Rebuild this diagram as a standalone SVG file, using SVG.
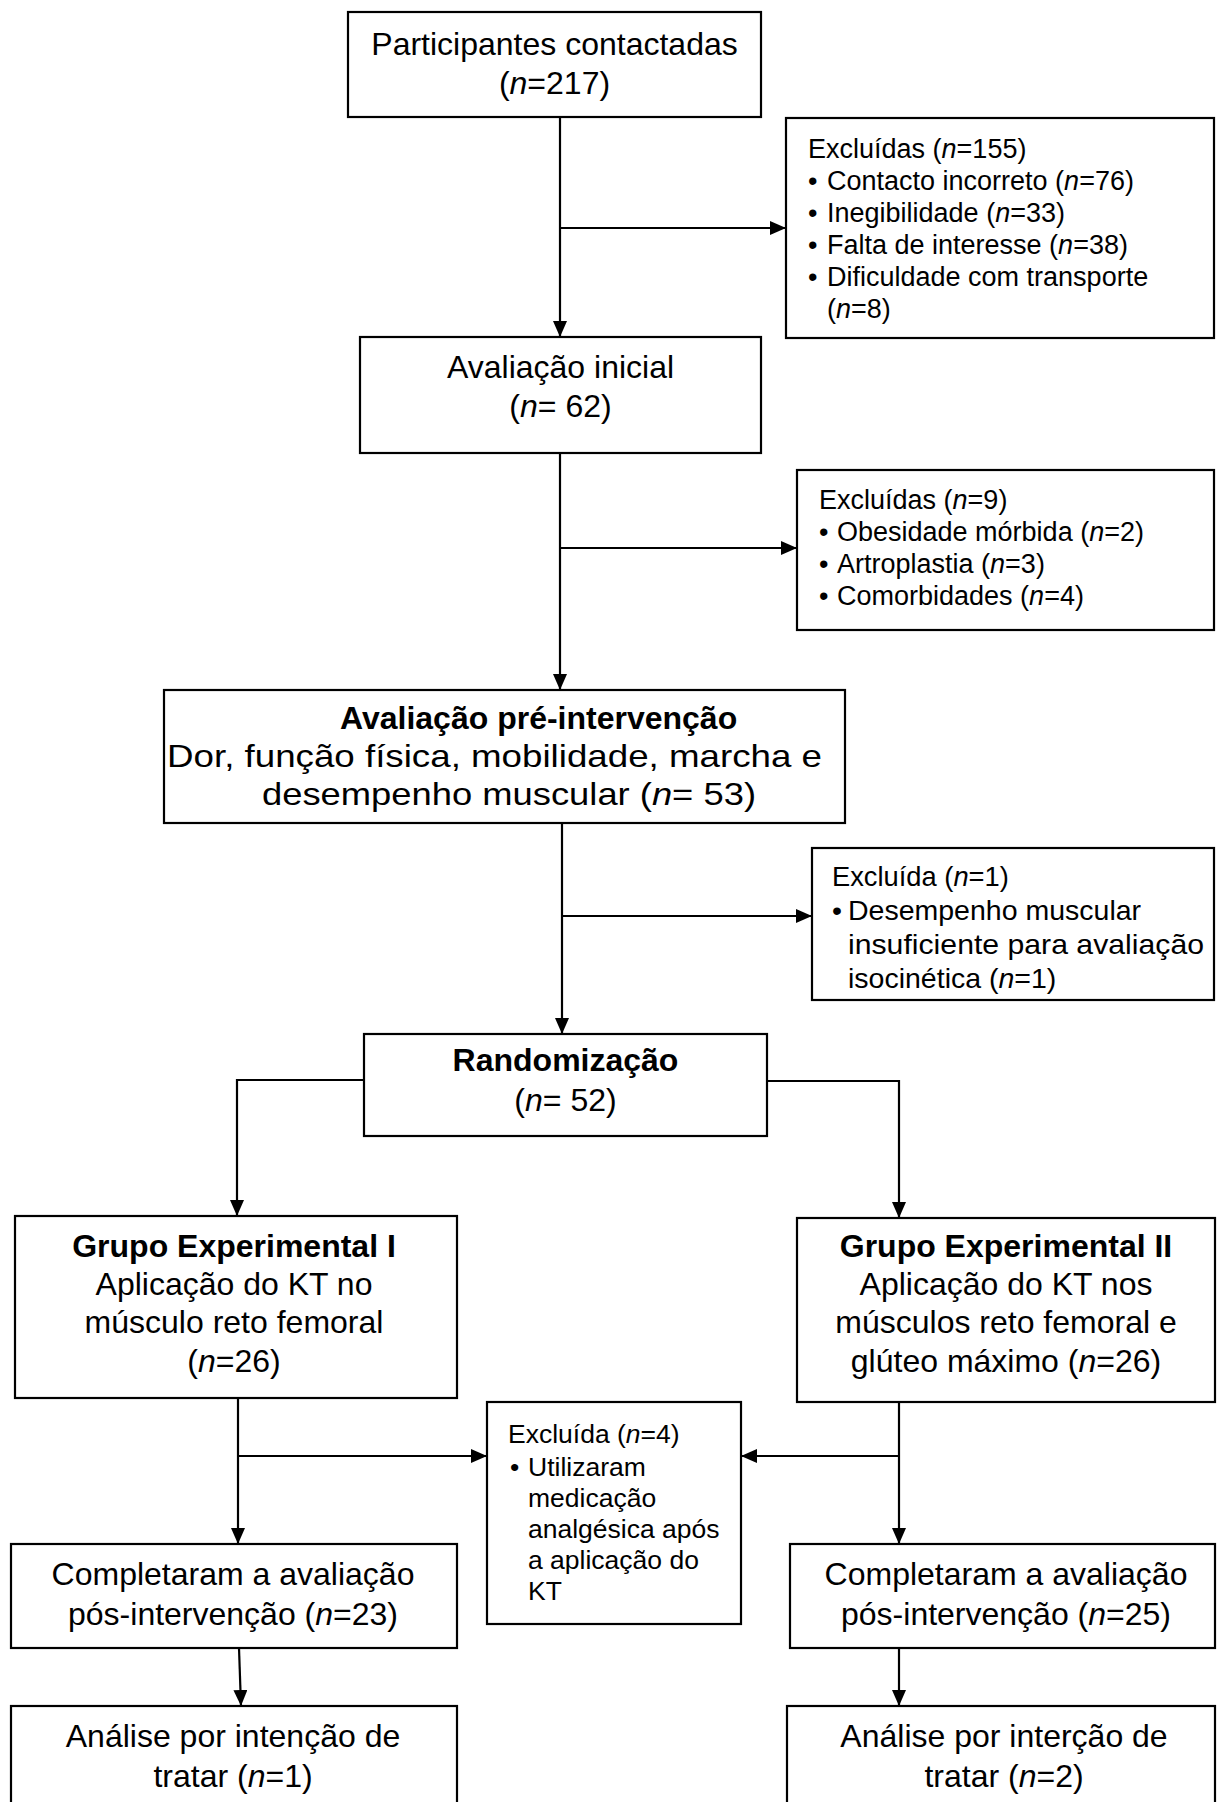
<svg xmlns="http://www.w3.org/2000/svg" width="1217" height="1802" viewBox="0 0 1217 1802">
<defs>
<style>
.box{fill:#fff;stroke:#000;stroke-width:2.2}
.t{font-family:"Liberation Sans",Arial,sans-serif;fill:#000}
.m{font-size:32px;text-anchor:middle}
.s{font-size:32px}
.e{font-size:27px}
.e4{font-size:26.5px}
.e3{font-size:28.5px}
.e3h{font-size:27.3px}
.b{font-weight:bold}
.i{font-style:italic}
.ln{fill:none;stroke:#000;stroke-width:2.2}
</style>
<marker id="ah" markerUnits="userSpaceOnUse" markerWidth="16" markerHeight="14" refX="16" refY="7" orient="auto">
<path d="M0,0 L16,7 L0,14 z" fill="#000"/>
</marker>
</defs>
<rect width="1217" height="1802" fill="#fff"/>

<g id="connectors">
<path class="ln" d="M560,117 V337" marker-end="url(#ah)"/>
<path class="ln" d="M560,228 H786" marker-end="url(#ah)"/>
<path class="ln" d="M560,453 V690" marker-end="url(#ah)"/>
<path class="ln" d="M560,548 H797" marker-end="url(#ah)"/>
<path class="ln" d="M562,823 V1034" marker-end="url(#ah)"/>
<path class="ln" d="M562,916 H812" marker-end="url(#ah)"/>
<path class="ln" d="M364,1080 H237 V1216" marker-end="url(#ah)"/>
<path class="ln" d="M767,1081 H899 V1218" marker-end="url(#ah)"/>
<path class="ln" d="M238,1398 V1544" marker-end="url(#ah)"/>
<path class="ln" d="M238,1456 H487" marker-end="url(#ah)"/>
<path class="ln" d="M899,1402 V1544" marker-end="url(#ah)"/>
<path class="ln" d="M899,1456 H741" marker-end="url(#ah)"/>
<path class="ln" d="M239,1648 L241,1706" marker-end="url(#ah)"/>
<path class="ln" d="M899,1648 V1706" marker-end="url(#ah)"/>
</g>

<g id="n1">
<rect class="box" x="348" y="12" width="413" height="105"/>
<text class="t m" x="554.5" y="55">Participantes contactadas</text>
<text class="t m" x="554.5" y="94">(<tspan class="i">n</tspan>=217)</text>
</g>

<g id="ex1">
<rect class="box" x="786" y="118" width="428" height="220"/>
<text class="t e" x="808" y="158">Excluídas (<tspan class="i">n</tspan>=155)</text>
<text class="t e" x="808" y="190">•</text><text class="t e" x="827" y="190">Contacto incorreto (<tspan class="i">n</tspan>=76)</text>
<text class="t e" x="808" y="222">•</text><text class="t e" x="827" y="222">Inegibilidade (<tspan class="i">n</tspan>=33)</text>
<text class="t e" x="808" y="254">•</text><text class="t e" x="827" y="254">Falta de interesse (<tspan class="i">n</tspan>=38)</text>
<text class="t e" x="808" y="286">•</text><text class="t e" x="827" y="286">Dificuldade com transporte</text>
<text class="t e" x="827" y="318">(<tspan class="i">n</tspan>=8)</text>
</g>

<g id="n2">
<rect class="box" x="360" y="337" width="401" height="116"/>
<text class="t m" x="560.5" y="378">Avaliação inicial</text>
<text class="t m" x="560.5" y="417">(<tspan class="i">n</tspan>= 62)</text>
</g>

<g id="ex2">
<rect class="box" x="797" y="470" width="417" height="160"/>
<text class="t e" x="819" y="509">Excluídas (<tspan class="i">n</tspan>=9)</text>
<text class="t e" x="819" y="541">•</text><text class="t e" x="837" y="541">Obesidade mórbida (<tspan class="i">n</tspan>=2)</text>
<text class="t e" x="819" y="573">•</text><text class="t e" x="837" y="573">Artroplastia (<tspan class="i">n</tspan>=3)</text>
<text class="t e" x="819" y="605">•</text><text class="t e" x="837" y="605">Comorbidades (<tspan class="i">n</tspan>=4)</text>
</g>

<g id="n3">
<rect class="box" x="164" y="690" width="681" height="133"/>
<text class="t s b" x="340" y="729">Avaliação pré-intervenção</text>
<text class="t s" x="167" y="767" textLength="655" lengthAdjust="spacingAndGlyphs">Dor, função física, mobilidade, marcha e</text>
<text class="t s" x="262" y="805" textLength="494" lengthAdjust="spacingAndGlyphs">desempenho muscular (<tspan class="i">n</tspan>= 53)</text>
</g>

<g id="ex3">
<rect class="box" x="812" y="848" width="402" height="152"/>
<text class="t e3h" x="832" y="886">Excluída (<tspan class="i">n</tspan>=1)</text>
<text class="t e3" x="832" y="920">•</text><text class="t e3" x="848" y="920">Desempenho muscular</text>
<text class="t e3" x="848" y="954" textLength="356" lengthAdjust="spacingAndGlyphs">insuficiente para avaliação</text>
<text class="t e3" x="848" y="988">isocinética (<tspan class="i">n</tspan>=1)</text>
</g>

<g id="n4">
<rect class="box" x="364" y="1034" width="403" height="102"/>
<text class="t m b" x="565.5" y="1071">Randomização</text>
<text class="t m" x="565.5" y="1111">(<tspan class="i">n</tspan>= 52)</text>
</g>

<g id="n5">
<rect class="box" x="15" y="1216" width="442" height="182"/>
<text class="t m b" x="234" y="1257">Grupo Experimental I</text>
<text class="t m" x="234" y="1295">Aplicação do KT no</text>
<text class="t m" x="234" y="1333">músculo reto femoral</text>
<text class="t m" x="234" y="1372">(<tspan class="i">n</tspan>=26)</text>
</g>

<g id="n6">
<rect class="box" x="797" y="1218" width="418" height="184"/>
<text class="t m b" x="1006" y="1257">Grupo Experimental II</text>
<text class="t m" x="1006" y="1295">Aplicação do KT nos</text>
<text class="t m" x="1006" y="1333">músculos reto femoral e</text>
<text class="t m" x="1006" y="1372">glúteo máximo (<tspan class="i">n</tspan>=26)</text>
</g>

<g id="ex4">
<rect class="box" x="487" y="1402" width="254" height="222"/>
<text class="t e4" x="508" y="1443">Excluída (<tspan class="i">n</tspan>=4)</text>
<text class="t e4" x="510" y="1476">•</text><text class="t e4" x="528" y="1476">Utilizaram</text>
<text class="t e4" x="528" y="1507">medicação</text>
<text class="t e4" x="528" y="1538">analgésica após</text>
<text class="t e4" x="528" y="1569">a aplicação do</text>
<text class="t e4" x="528" y="1600">KT</text>
</g>

<g id="n7">
<rect class="box" x="11" y="1544" width="446" height="104"/>
<text class="t m" x="233" y="1585">Completaram a avaliação</text>
<text class="t m" x="233" y="1625">pós-intervenção (<tspan class="i">n</tspan>=23)</text>
</g>

<g id="n8">
<rect class="box" x="790" y="1544" width="425" height="104"/>
<text class="t m" x="1006" y="1585">Completaram a avaliação</text>
<text class="t m" x="1006" y="1625">pós-intervenção (<tspan class="i">n</tspan>=25)</text>
</g>

<g id="n9">
<rect class="box" x="11" y="1706" width="446" height="110"/>
<text class="t m" x="233" y="1747">Análise por intenção de</text>
<text class="t m" x="233" y="1787">tratar (<tspan class="i">n</tspan>=1)</text>
</g>

<g id="n10">
<rect class="box" x="787" y="1706" width="428" height="110"/>
<text class="t m" x="1004" y="1747">Análise por interção de</text>
<text class="t m" x="1004" y="1787">tratar (<tspan class="i">n</tspan>=2)</text>
</g>
</svg>
